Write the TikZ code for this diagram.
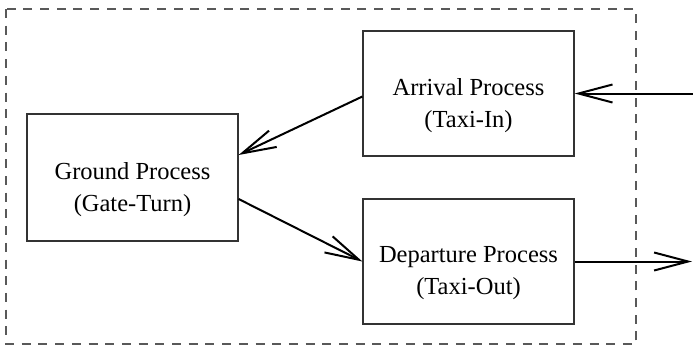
\documentclass[tikz,border=0pt]{standalone}
\usepackage{fontspec}
\setmainfont{Liberation Serif}
\usetikzlibrary{arrows.meta}
\tikzset{
  procbox/.style={draw=black!80, line width=1.2pt, minimum width=211pt, minimum height=125pt, inner sep=0pt},
  proctext/.style={align=center, font=\fontsize{24.5}{32}\selectfont, inner sep=0pt},
  flow/.style={line width=2pt, -{Straight Barb[length=34pt,width=18pt]}},
  frame/.style={draw=black!65, line width=1.1pt, dash pattern=on 9pt off 7.7pt}
}
\begin{document}
\begin{tikzpicture}[x=1pt,y=-1pt]
\useasboundingbox (0,0) rectangle (693,346);
\draw[frame] (6,9) rectangle (636,344);
\node[procbox] (arr) at (468.5,93.5) {};
\node[procbox, minimum height=127pt] (gnd) at (132.5,177.5) {};
\node[procbox] (dep) at (468.5,261.5) {};
\node[proctext] (arrT) at ([yshift=-12pt]arr.center) {Arrival Process\\(Taxi-In)};
\node[proctext] (gndT) at ([yshift=-12pt]gnd.center) {Ground Process\\(Gate-Turn)};
\node[proctext] (depT) at ([yshift=-12pt]dep.center) {Departure Process\\(Taxi-Out)};
\coordinate (inR) at (693,93.5);
\coordinate (outR) at (692,261.5);
\draw[flow] (inR) -- (arr.east);
\draw[flow] (dep.east) -- (outR);
\draw[flow] ([yshift=-3pt]arr.west) -- ([yshift=22.5pt]gnd.east);
\draw[flow] ([yshift=-21.5pt]gnd.east) -- (dep.west);
\end{tikzpicture}
\end{document}
